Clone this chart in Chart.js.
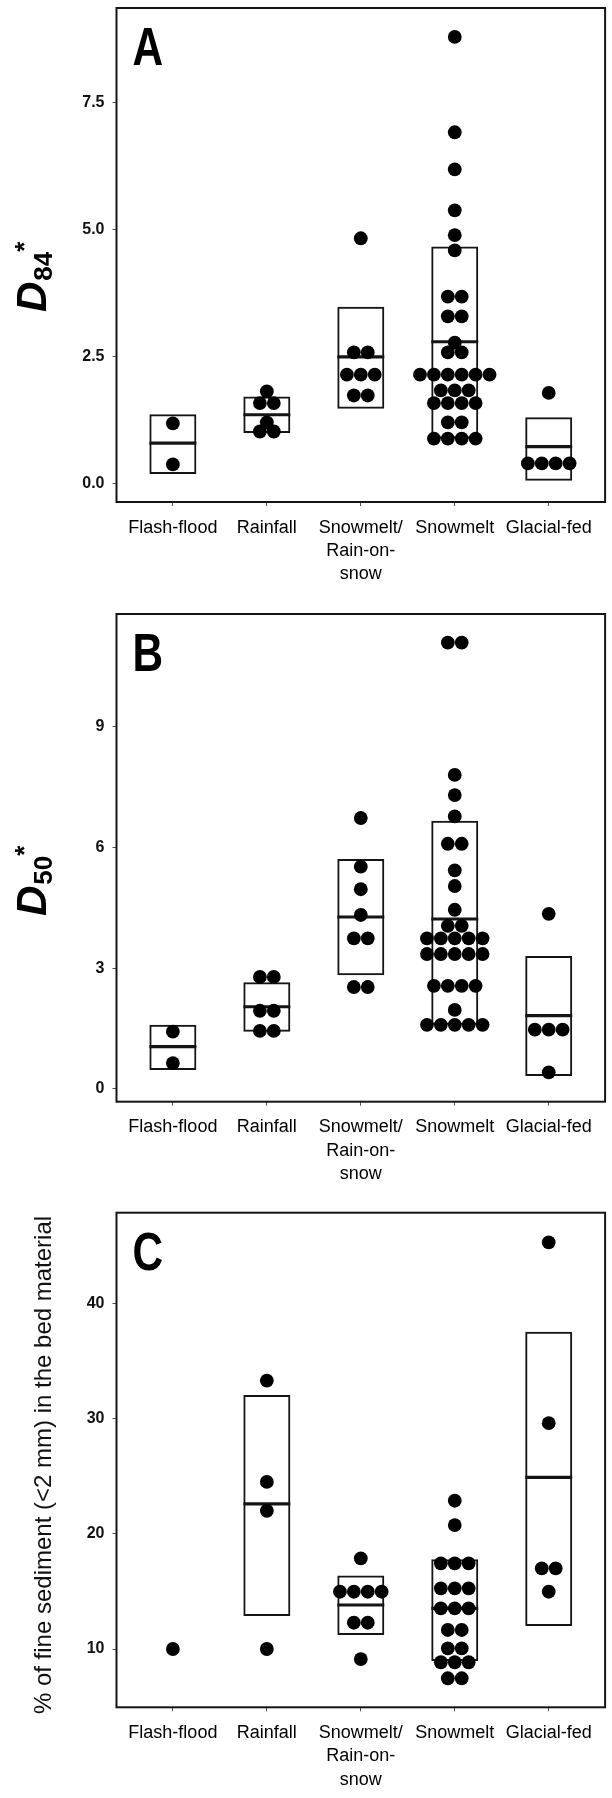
<!DOCTYPE html>
<html><head><meta charset="utf-8">
<script src="https://cdn.jsdelivr.net/npm/chart.js@4.4.1/dist/chart.umd.min.js"></script>
<style>
html,body{margin:0;padding:0;background:#fff;}
body{width:612px;height:1798px;position:relative;overflow:hidden;}
.p{position:absolute;left:0;width:612px;}
canvas{display:block;}
</style></head><body>
<div class="p" style="top:0;height:590px"><canvas id="cA" width="612" height="590"></canvas></div>
<div class="p" style="top:590px;height:600px"><canvas id="cB" width="612" height="600"></canvas></div>
<div class="p" style="top:1190px;height:608px"><canvas id="cC" width="612" height="608"></canvas></div>
<script>
// ---------- data ----------
const categories = ['Flash-flood','Rainfall','Snowmelt/Rain-on-snow','Snowmelt','Glacial-fed'];
const xTickLabels = ['Flash-flood','Rainfall',['Snowmelt/','Rain-on-','snow'],'Snowmelt','Glacial-fed'];

// Panel A: D84*
const d84Flash   = [1.18, 0.37];
const d84Rain    = [1.81, 1.58, 1.58, 1.20, 1.02, 1.02];
const d84Ros     = [4.83, 2.58, 2.58, 2.14, 2.14, 2.14, 1.73, 1.73];
const d84Snow    = [8.80, 6.92, 6.19, 5.38, 4.89, 4.59, 3.68, 3.68, 3.29, 3.29, 2.77, 2.58, 2.58,
                    2.14, 2.14, 2.14, 2.14, 2.14, 2.14, 1.83, 1.83, 1.83, 1.58, 1.58, 1.58, 1.58,
                    1.20, 1.20, 0.88, 0.88, 0.88, 0.88];
const d84Glacial = [1.78, 0.39, 0.39, 0.39, 0.39];
const d84BoxLow  = [0.18, 0.99, 1.47, 0.88, 0.05];
const d84BoxHigh = [1.36, 1.71, 3.48, 4.67, 1.30];
const d84Median  = [0.79, 1.35, 2.49, 2.79, 0.72];
const d84Ticks   = [0, 2.5, 5, 7.5];
const d84TickLabels = ['0.0', '2.5', '5.0', '7.5'];

// Panel B: D50*
const d50Flash   = [1.42, 0.64];
const d50Rain    = [2.78, 2.78, 1.94, 1.94, 1.44, 1.44];
const d50Ros     = [6.73, 5.52, 4.96, 4.32, 3.74, 3.74, 2.53, 2.53];
const d50Snow    = [11.09, 11.09, 7.80, 7.30, 6.77, 6.09, 6.09, 5.43, 5.04, 4.45, 4.05, 4.05,
                    3.74, 3.74, 3.74, 3.74, 3.74, 3.35, 3.35, 3.35, 3.35, 3.35,
                    2.56, 2.56, 2.56, 2.56, 1.96, 1.59, 1.59, 1.59, 1.59, 1.59];
const d50Glacial = [4.35, 1.47, 1.47, 1.47, 0.41];
const d50BoxLow  = [0.47, 1.42, 2.82, 1.59, 0.32];
const d50BoxHigh = [1.59, 2.65, 5.71, 6.66, 3.30];
const d50Median  = [1.05, 2.04, 4.27, 4.22, 1.82];
const d50Ticks   = [0, 3, 6, 9];
const d50TickLabels = ['0', '3', '6', '9'];

// Panel C: % fine sediment
const finesFlash   = [10.0];
const finesRain    = [33.3, 24.5, 22.0, 10.0];
const finesRos     = [17.87, 14.97, 14.97, 14.97, 14.97, 12.28, 12.28, 9.13];
const finesSnow    = [22.87, 20.76, 17.44, 17.44, 17.44, 15.27, 15.27, 15.27, 13.53, 13.53, 13.53,
                      11.65, 11.65, 10.06, 10.06, 8.85, 8.85, 8.85, 7.46, 7.46];
const finesGlacial = [45.3, 29.6, 17.0, 17.0, 14.97];
const finesBoxLow  = [null, 12.86, 11.22, 8.96, 12.0];
const finesBoxHigh = [null, 32.05, 16.37, 17.79, 37.54];
const finesMedian  = [null, 22.6, 13.82, 13.53, 24.9];
const finesTicks   = [10, 20, 30, 40];
const finesTickLabels = ['10', '20', '30', '40'];

// ---------- helpers ----------
const SANS = "'Liberation Sans',Arial,sans-serif";
const INK = '#151515';
const DOT_STEP = 0.148;   // horizontal stacking step of dots, in category units
const BOX_HALF = 0.25;    // half width of crossbar boxes, in category units

function swarm(groups) {
  const pts = [];
  groups.forEach((vals, ci) => {
    const counts = new Map();
    vals.forEach(v => counts.set(v, (counts.get(v) || 0) + 1));
    counts.forEach((n, v) => {
      for (let k = 0; k < n; k++) pts.push({ x: ci + (k - (n - 1) / 2) * DOT_STEP, y: v });
    });
  });
  return pts;
}
function boxes(lo, hi) {
  const out = [];
  lo.forEach((l, i) => { if (l !== null) out.push({ x: i, y: [l, hi[i]] }); });
  return out;
}
function medians(med) {
  const out = [];
  med.forEach((m, i) => { if (m !== null) out.push({ x: i, y: m }); });
  return out;
}

const framePlugin = {
  id: 'frame',
  afterDraw(chart, args, o) {
    const { ctx, chartArea: a } = chart;
    ctx.save();
    ctx.lineWidth = 2;
    ctx.strokeStyle = INK;
    ctx.strokeRect(a.left, a.top, a.right - a.left, a.bottom - a.top);
    // panel letter (condensed bold)
    ctx.save();
    ctx.fillStyle = '#000';
    ctx.font = `bold 53px ${SANS}`;
    ctx.textBaseline = 'alphabetic';
    ctx.textAlign = 'left';
    ctx.translate(a.left + 16, a.top + 57);
    ctx.scale(0.8, 1);
    ctx.fillText(o.letter, 0, 0);
    ctx.restore();
    // y title
    const t = o.title;
    ctx.fillStyle = '#000';
    ctx.translate(t.x, t.y);
    ctx.rotate(-Math.PI / 2);
    if (t.parts) {
      let cx = 0;
      ctx.textBaseline = 'alphabetic';
      t.parts.forEach(p => {
        ctx.font = p.font;
        ctx.textAlign = 'left';
        ctx.fillText(p.text, cx, p.dy);
        cx += ctx.measureText(p.text).width + (p.gap || 0);
      });
    } else {
      ctx.font = t.font;
      ctx.textAlign = 'center';
      ctx.textBaseline = 'middle';
      ctx.fillStyle = '#111';
      ctx.fillText(t.text, 0, 0);
    }
    ctx.restore();
  }
};

function makePanel(id, cfg) {
  const canvas = document.getElementById(id);
  const H = canvas.height;
  new Chart(canvas, {
    data: {
      datasets: [
        { type: 'scatter', data: swarm(cfg.groups), pointRadius: 6.9, pointHoverRadius: 6.9,
          backgroundColor: '#000', borderWidth: 0, order: 0 },
        { type: 'scatter', data: medians(cfg.med), pointStyle: 'line',
          pointRadius: c => { const s = c.chart.scales.x; return Math.abs(s.getPixelForValue(BOX_HALF) - s.getPixelForValue(0)); },
          borderColor: INK, borderWidth: 3.2, order: 1 },
        { type: 'bar', data: boxes(cfg.lo, cfg.hi), backgroundColor: 'rgba(0,0,0,0)',
          borderColor: INK, borderWidth: 2, borderSkipped: false,
          barPercentage: 2 * BOX_HALF, categoryPercentage: 1, grouped: false, order: 2 }
      ]
    },
    options: {
      responsive: false,
      animation: false,
      events: [],
      layout: { padding: { top: cfg.top, right: 612 - 606.5, left: 0, bottom: 0 } },
      plugins: { legend: { display: false }, tooltip: { enabled: false },
                 frame: { letter: cfg.letter, title: cfg.title } },
      scales: {
        x: {
          type: 'linear', min: -0.6, max: 4.6, offset: false,
          afterBuildTicks: s => { s.ticks = categories.map((_, i) => ({ value: i })); },
          afterFit: s => { s.height = H - cfg.bottom; s.paddingLeft = 0; s.paddingRight = 0; },
          ticks: { autoSkip: false, maxRotation: 0, minRotation: 0, padding: 10, color: '#000',
                   font: { family: SANS, size: 18, lineHeight: 1.3 },
                   callback: (v, i) => xTickLabels[i] },
          grid: { display: true, offset: false, drawOnChartArea: false, drawTicks: true, tickLength: 4, color: '#555', lineWidth: 1 },
          border: { display: false }
        },
        y: {
          type: 'linear', min: cfg.ymin, max: cfg.ymax,
          afterBuildTicks: s => { s.ticks = cfg.ticks.map(v => ({ value: v })); },
          afterFit: s => { s.width = 116.5; s.paddingTop = 0; s.paddingBottom = 0; },
          ticks: { padding: 8, color: '#111', font: { family: SANS, size: 16, weight: 'bold' },
                   callback: (v, i) => cfg.tickLabels[i] },
          grid: { display: true, offset: false, drawOnChartArea: false, drawTicks: true, tickLength: 4, color: '#555', lineWidth: 1 },
          border: { display: false }
        }
      }
    },
    plugins: [framePlugin]
  });
}

const subTitle = (sub, x, y) => ({
  x, y,
  parts: [
    { text: 'D', font: `italic bold 42px ${SANS}`, dy: 0, gap: 1 },
    { text: sub, font: `bold 26px ${SANS}`, dy: 6 },
    { text: '*', font: `bold 26px ${SANS}`, dy: -13 }
  ]
});

makePanel('cA', {
  letter: 'A', top: 8, bottom: 502, ymin: -0.37, ymax: 9.37,
  ticks: d84Ticks, tickLabels: d84TickLabels,
  groups: [d84Flash, d84Rain, d84Ros, d84Snow, d84Glacial],
  lo: d84BoxLow, hi: d84BoxHigh, med: d84Median,
  title: subTitle('84', 46, 312)
});
makePanel('cB', {
  letter: 'B', top: 24, bottom: 511.7, ymin: -0.32, ymax: 11.8,
  ticks: d50Ticks, tickLabels: d50TickLabels,
  groups: [d50Flash, d50Rain, d50Ros, d50Snow, d50Glacial],
  lo: d50BoxLow, hi: d50BoxHigh, med: d50Median,
  title: subTitle('50', 46, 326)
});
makePanel('cC', {
  letter: 'C', top: 22.7, bottom: 517.3, ymin: 4.94, ymax: 47.87,
  ticks: finesTicks, tickLabels: finesTickLabels,
  groups: [finesFlash, finesRain, finesRos, finesSnow, finesGlacial],
  lo: finesBoxLow, hi: finesBoxHigh, med: finesMedian,
  title: { x: 44, y: 275, font: `24px ${SANS}`, text: '% of fine sediment (<2 mm) in the bed material' }
});
</script>
</body></html>
